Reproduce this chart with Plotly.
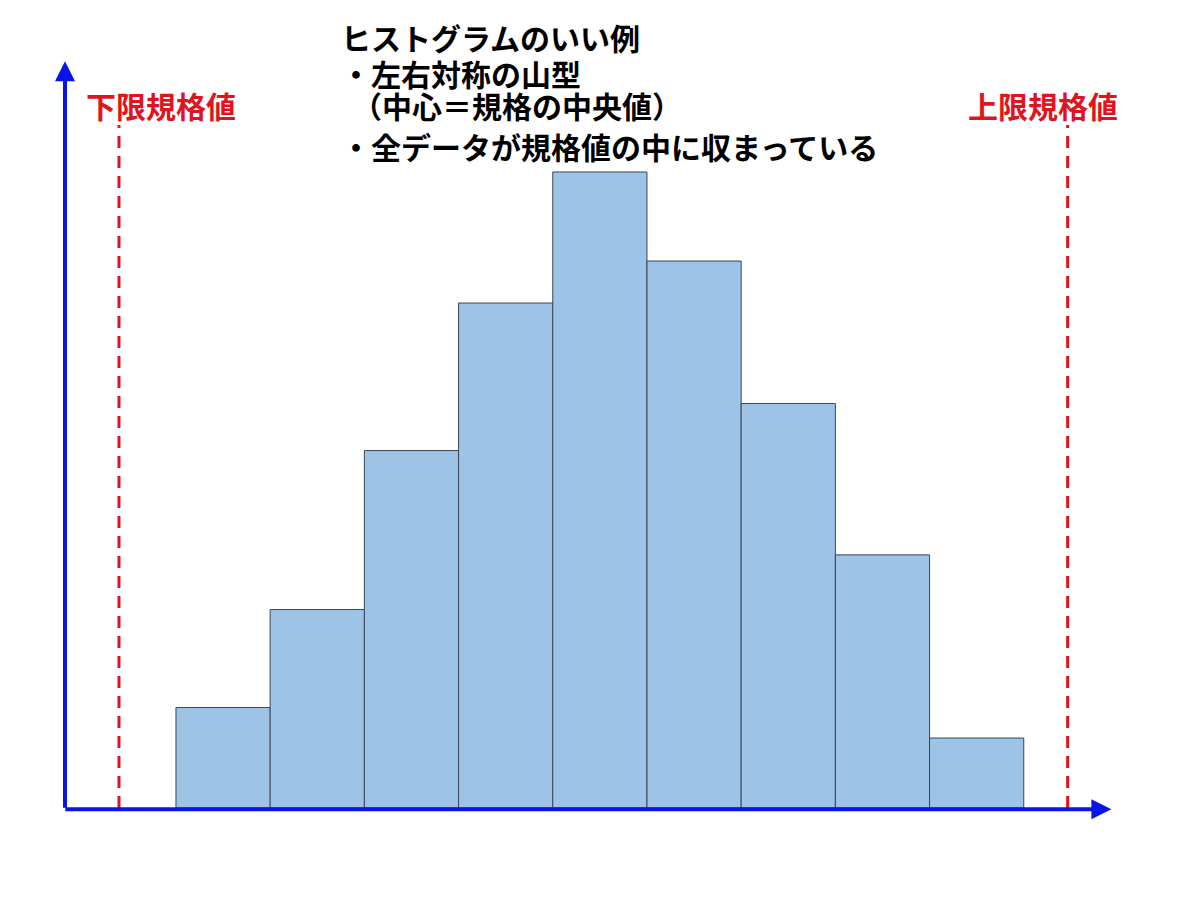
import plotly.graph_objects as go

# ---- data ----
bins = [0, 1, 2, 3, 4, 5, 6, 7, 8]
counts = [7.9, 15.6, 28.1, 39.7, 50.0, 43.0, 31.8, 19.9, 5.5]
lsl = -1.105   # 下限規格値
usl = 8.966    # 上限規格値
title_lines = ["ヒストグラムのいい例", "・左右対称の山型", "（中心＝規格の中央値）", "・全データが規格値の中に収まっている"]
lsl_label = "下限規格値"
usl_label = "上限規格値"

W, H = 1200, 899
FONT = "Liberation Sans, Noto Sans CJK JP"
BLUE = "#0a14e6"
RED = "#e0141e"

fig = go.Figure()
fig.add_trace(go.Bar(
    x=bins, y=counts, width=1,
    marker=dict(color="#9DC3E6", line=dict(color="#3b4656", width=1)),
    hoverinfo="skip",
))

# axis ranges (bin index / count)
x_range = [-2.368, 10.371]
y_range = [-7.154, 63.52]

# spec lines
for xv in (lsl, usl):
    fig.add_shape(type="line", x0=xv, x1=xv, y0=0, y1=53.7, xref="x", yref="y",
                  line=dict(color=RED, width=3, dash="12px,8px"))

# axis arrows
fig.add_annotation(x=-1.678, y=58.7, ax=-1.678, ay=-0.1, xref="x", yref="y", axref="x", ayref="y",
                   showarrow=True, arrowhead=2, arrowsize=1, arrowwidth=4, arrowcolor=BLUE, text="")
fig.add_annotation(x=9.43, y=-0.1, ax=-1.69, ay=-0.1, xref="x", yref="y", axref="x", ayref="y",
                   showarrow=True, arrowhead=2, arrowsize=1, arrowwidth=4, arrowcolor=BLUE, text="")

# spec labels
for lab, xc in ((lsl_label, 161), (usl_label, 1043)):
    fig.add_annotation(x=xc / W, y=1 - 107 / H, xref="paper", yref="paper", text=f"<b>{lab}</b>",
                       showarrow=False, xanchor="center", yanchor="middle",
                       font=dict(family=FONT, size=30, color=RED))

# title text
ys = [40, 75, 108, 148]
xs = [340, 340, 351, 340]
for t, yp, xp in zip(title_lines, ys, xs):
    fig.add_annotation(x=xp / W, y=1 - yp / H, xref="paper", yref="paper", text=f"<b>{t}</b>",
                       showarrow=False, xanchor="left", yanchor="middle", borderpad=0,
                       font=dict(family=FONT, size=30, color="black"))

fig.update_layout(
    width=W, height=H,
    margin=dict(l=0, r=0, t=0, b=0),
    plot_bgcolor="white", paper_bgcolor="white",
    showlegend=False,
    xaxis=dict(range=x_range, visible=False, fixedrange=True),
    yaxis=dict(range=y_range, visible=False, fixedrange=True),
)

fig.write_html("out.html")
